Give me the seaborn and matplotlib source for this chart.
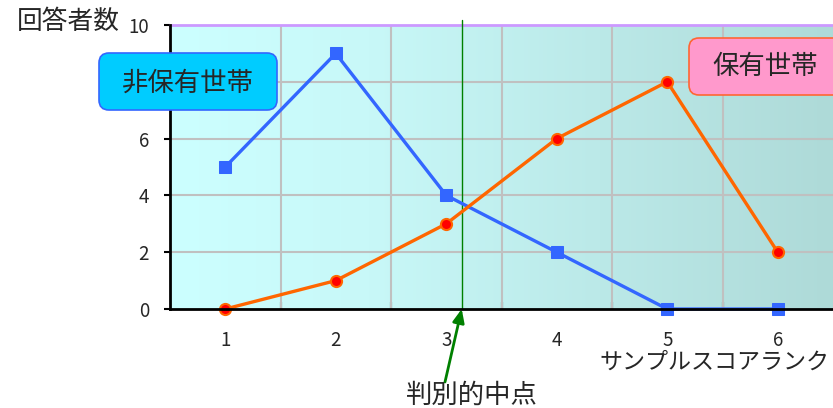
import numpy as np
import pandas as pd
import matplotlib
matplotlib.use("Agg")
import matplotlib.pyplot as plt
from matplotlib.patches import FancyBboxPatch
from matplotlib.colors import LinearSegmentedColormap
import seaborn as sns

# Respondent counts per sample-score rank
ranks = [1, 2, 3, 4, 5, 6]
non_owner = [5, 9, 4, 2, 0, 0]
owner = [0, 1, 3, 6, 8, 2]
y_ticks = [0, 2, 4, 6, 8, 10]
y_tick_labels = ["0", "2", "4", "6", "", "10"]
cut_point = 3.14

label_non_owner = "非保有世帯"
label_owner = "保有世帯"
y_title = "回答者数"
x_title = "サンプルスコアランク"
cut_label = "判別的中点"

sns.set_style("white")
plt.rcParams["font.family"] = ["Noto Sans CJK JP", "DejaVu Sans"]

df = pd.concat([
    pd.DataFrame({"rank": ranks, "count": non_owner, "group": label_non_owner}),
    pd.DataFrame({"rank": ranks, "count": owner, "group": label_owner}),
])

fig = plt.figure(figsize=(8.33, 4.08), dpi=100)
ax = fig.add_axes([170 / 833, 1 - 309 / 408, 663 / 833, 284 / 408])

# horizontal gradient backdrop
cmap = LinearSegmentedColormap.from_list(
    "bg",
    [(0.0, (204 / 255, 1.0, 1.0)),
     (0.3, (200 / 255, 248 / 255, 248 / 255)),
     (1.0, (174 / 255, 218 / 255, 216 / 255))],
)
grad = np.linspace(0, 1, 256).reshape(1, -1)
ax.imshow(grad, cmap=cmap, aspect="auto", extent=[0.5, 6.5, 0, 10],
          origin="lower", zorder=0)

sns.lineplot(data=df[df["group"] == label_non_owner], x="rank", y="count",
             ax=ax, color="#3366FF", linewidth=2.4, marker="s",
             markersize=8, markerfacecolor="#3366FF",
             markeredgecolor="#3366FF", zorder=4, clip_on=False)
sns.lineplot(data=df[df["group"] == label_owner], x="rank", y="count",
             ax=ax, color="#FF6600", linewidth=2.4, marker="o",
             markersize=8, markerfacecolor="#FF0000",
             markeredgecolor="#FF6600", markeredgewidth=1.5, zorder=4,
             clip_on=False)

ax.set_xlim(0.5, 6.5)
ax.set_ylim(0, 10)
ax.set_xlabel("")
ax.set_ylabel("")

ax.set_xticks(ranks)
ax.set_xticks([r + 0.5 for r in ranks[:-1]], minor=True)
ax.set_yticks(y_ticks)
ax.set_yticklabels(y_tick_labels)
ax.tick_params(axis="x", which="major", length=0, pad=15, labelsize=13.5)
ax.tick_params(axis="x", which="minor", direction="in", length=5,
               width=1.5, color="black", bottom=True)
ax.tick_params(axis="y", which="major", direction="out", length=4,
               width=1.5, color="black", left=True, pad=11, labelsize=13.5)

ax.grid(False)
for x in [r + 0.5 for r in ranks[:-1]]:
    ax.axvline(x, color="#C0C0C0", linewidth=1.5, zorder=1)
for y in y_ticks[1:-1]:
    ax.axhline(y, color="#C0C0C0", linewidth=1.5, zorder=1)

for side in ["left", "bottom"]:
    ax.spines[side].set_color("black")
    ax.spines[side].set_linewidth(2)
    ax.spines[side].set_zorder(5)
ax.spines["top"].set_color("#CC99FF")
ax.spines["top"].set_linewidth(2)
ax.spines["right"].set_visible(False)

# discriminant cut point
ax.plot([cut_point, cut_point], [0, 10.18], color="#008000", linewidth=1,
        zorder=3, clip_on=False)
ax.annotate("", xy=(cut_point, 0.0), xycoords="data",
            xytext=(445 / 833, 1 - 382 / 408), textcoords="figure fraction",
            arrowprops=dict(arrowstyle="-|>,head_length=0.8,head_width=0.35",
                            color="#008000", lw=2, shrinkA=0, shrinkB=0))
fig.text(472 / 833, 1 - 395 / 408, cut_label, ha="center", va="center",
         fontsize=19)

fig.text(17 / 833, 1 - 22 / 408, y_title, ha="left", va="center",
         fontsize=18.5)
fig.text(829 / 833, 1 - 362 / 408, x_title, ha="right", va="center",
         fontsize=16.6)

# group callouts (coordinates in inches)
box1 = FancyBboxPatch((0.99, 2.98), 1.78, 0.57,
                      boxstyle="round,pad=0,rounding_size=0.1",
                      facecolor="#00CCFF", edgecolor="#3366FF", linewidth=1.2,
                      transform=fig.dpi_scale_trans, zorder=10)
fig.add_artist(box1)
fig.text(1.88, 3.25, label_non_owner, ha="center", va="center",
         fontsize=19, transform=fig.dpi_scale_trans, zorder=11)

box2 = FancyBboxPatch((6.89, 3.13), 1.55, 0.57,
                      boxstyle="round,pad=0,rounding_size=0.1",
                      facecolor="#FF99CC", edgecolor="#FF6633", linewidth=1.2,
                      transform=fig.dpi_scale_trans, zorder=10)
fig.add_artist(box2)
fig.text(7.65, 3.41, label_owner, ha="center", va="center",
         fontsize=19, transform=fig.dpi_scale_trans, zorder=11)

fig.savefig("out.png", dpi=100)
